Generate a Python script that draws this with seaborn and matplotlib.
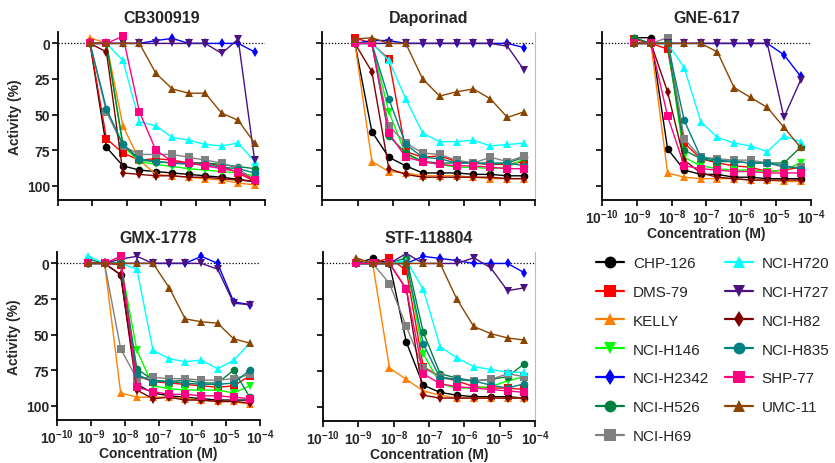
import numpy as np
import pandas as pd
import seaborn as sns
import matplotlib.pyplot as plt
from matplotlib.lines import Line2D

sns.set_style('ticks')
plt.rcParams['font.family'] = ['Liberation Sans', 'DejaVu Sans']
plt.rcParams['mathtext.fontset'] = 'custom'
plt.rcParams['mathtext.rm'] = 'Liberation Sans'
plt.rcParams['mathtext.bf'] = 'Liberation Sans:bold'

# concentrations (M), 3-fold dilution
conc = [8.47e-10, 2.54e-9, 7.62e-9, 2.29e-8, 6.86e-8, 2.06e-7, 6.17e-7, 1.85e-6, 5.56e-6, 1.67e-5, 5.0e-5]

cells = ['CHP-126', 'DMS-79', 'KELLY', 'NCI-H146', 'NCI-H2342', 'NCI-H526', 'NCI-H69',
         'NCI-H720', 'NCI-H727', 'NCI-H82', 'NCI-H835', 'SHP-77', 'UMC-11']
cell_colors = ['#000000', '#ff0000', '#ff8000', '#00ff00', '#0000ff', '#00803f', '#808080',
               '#00ffff', '#4b1082', '#800000', '#008080', '#ff0080', '#8b4500']
cell_markers = ['o', 's', '^', 'v', 'd', 'o', 's', '^', 'v', 'd', 'o', 's', '^']

# activity (%) per cell line
cb300919 = {
    'CHP-126':   [0, 73, 86, 89, 90, 91, 92, 93, 94, 95.5, 97],
    'DMS-79':    [0, 67, 77, 82, 81, 82, 84, 84, 86, 91, 97],
    'KELLY':     [-4, 0, 58, 82, 92, 93, 94, 95, 96, 98, 99.5],
    'NCI-H146':  [0, 0, 72, 83, 85, 86.5, 88, 89, 90, 91, 93],
    'NCI-H2342': [0, 0, 0, 0, -2, -3.5, 0, 0, 0, 0, 6],
    'NCI-H526':  [0, 0, 71, 82, 83, 84, 84, 84, 85, 86.5, 88],
    'NCI-H69':   [0, 48, 72, 78, 78, 78, 80, 82, 84, 88, 96],
    'NCI-H720':  [0, 0, 12, 55, 58, 66, 68, 71, 72, 70, 83],
    'NCI-H727':  [0, 0, 0, 0, 0, 0, 0, 0, 7, -3, 82],
    'NCI-H82':   [0, 6, 91, 92, 93, 93, 94, 94, 95, 96, 97],
    'NCI-H835':  [0, 46, 71, 81, 83, 84, 85, 85, 87, 88, 91],
    'SHP-77':    [0, 0, -5, 48, 75, 83, 84, 86, 88, 90, 96],
    'UMC-11':    [0, 0, 0, 0, 21, 32, 35, 35, 49, 54, 70],
}
daporinad = {
    'CHP-126':   [0, 62, 80, 86, 91, 91, 91, 92, 92, 93, 93],
    'DMS-79':    [-4, 0, 11, 76, 80, 79, 83, 84, 85, 85, 83],
    'KELLY':     [0, 83, 90, 91, 93, 93, 93, 94, 95, 95, 95],
    'NCI-H146':  [0, 0, 48, 78, 83, 85, 87, 87, 88, 87, 81],
    'NCI-H2342': [0, -2, -2, 0, 0, 0, 0, 0, 0, 0, 3],
    'NCI-H526':  [0, 0, 65, 77, 83, 84, 84, 84, 85, 84, 80],
    'NCI-H69':   [0, 0, 58, 70, 77, 78, 82, 84, 80, 83, 79],
    'NCI-H720':  [0, 0, 12, 39, 63, 69, 69, 68, 72, 71, 70],
    'NCI-H727':  [0, 0, 0, 0, 0, 0, 0, 0, 0, 2, 19],
    'NCI-H82':   [0, 20, 88, 92, 94, 94, 94, 94, 94, 95, 95],
    'NCI-H835':  [0, 0, 39, 71, 80, 81, 84, 84, 84, 84, 86],
    'SHP-77':    [0, 0, 63, 80, 83, 85, 86, 86, 87, 88, 88],
    'UMC-11':    [-3, -4, 0, 0, 25, 37, 34, 32, 39, 52, 48],
}
gne617 = {
    'CHP-126':   [-4, -4, 74, 89, 92, 92, 94, 94, 95, 95, 95],
    'DMS-79':    [-3, 0, 4, 70, 81, 84, 86, 87, 90, 89, 87],
    'KELLY':     [0, 0, 91, 94, 95, 95, 95, 96, 96, 97, 97],
    'NCI-H146':  [0, 0, 0, 80, 86, 88, 89, 89, 90, 89, 84],
    'NCI-H2342': [0, 0, 0, 0, 0, 0, 0, 0, 0, 8, 23],
    'NCI-H526':  [-4, 0, 0, 75, 81, 83, 83, 84, 84, 84, 73],
    'NCI-H69':   [0, 0, -4, 67, 80, 81, 82, 82, 84, 87, 87],
    'NCI-H720':  [0, 0, 0, 17, 55, 66, 70, 72, 76, 65, 69],
    'NCI-H727':  [0, 0, 0, 0, 0, 0, 0, 0, 0, 52, 26],
    'NCI-H82':   [0, 0, 34, 82, 91, 94, 95, 96, 96, 96, 96],
    'NCI-H835':  [0, 0, 0, 54, 80, 82, 83, 84, 84, 86, 88],
    'SHP-77':    [0, 0, 51, 86, 88, 89, 90, 90, 91, 91, 91],
    'UMC-11':    [0, 0, 0, 0, 0, 6, 31, 38, 45, 59, 73],
}
gmx1778 = {
    'CHP-126':   [0, 0, 8, 85, 91, 93, 94, 95, 96, 96, 96],
    'DMS-79':    [0, 0, 1, 79, 83, 84, 85, 86, 87, 86, 79],
    'KELLY':     [0, 0, 91, 94, 94, 94, 95, 96, 97, 97, 99],
    'NCI-H146':  [0, 0, 0, 61, 86, 88, 89, 89, 89, 91, 86],
    'NCI-H2342': [0, 0, 0, 0, 0, 0, 0, -5, 0, 27, 29],
    'NCI-H526':  [-3, 0, 0, 74, 82, 83, 82, 84, 84, 75, 94],
    'NCI-H69':   [0, 0, 60, 81, 80, 81, 81, 82, 82, 81, 78],
    'NCI-H720':  [-5, 0, 0, 4, 61, 67, 69, 68, 74, 68, 56],
    'NCI-H727':  [0, 0, -3, -5, 0, 0, 0, 0, 4, 28, 29],
    'NCI-H82':   [0, 0, 8, 89, 95, 94, 96, 96, 97, 97, 98],
    'NCI-H835':  [0, 0, 0, 78, 83, 83, 84, 85, 85, 84, 75],
    'SHP-77':    [0, 0, -5, 87, 90, 92, 92, 93, 93, 94, 95],
    'UMC-11':    [0, 0, 0, 0, 0, 17, 39, 41, 42, 53, 56],
}
stf118804 = {
    'CHP-126':   [0, -3.5, 0, 55, 85, 90, 92, 93, 93, 93, 94],
    'DMS-79':    [0, 0, -4, 5, 72, 79, 82, 86, 87, 87, 88],
    'KELLY':     [-3, 0, 73, 81, 89, 92, 94, 94, 94, 94, 94],
    'NCI-H146':  [0, 0, 0, 0, 63, 84, 87, 87, 86, 82, 79],
    'NCI-H2342': [0, 0, 0, 0, -5, -3.5, -2, 0, 0, 0, 6.5],
    'NCI-H526':  [0, 0, 0, -4, 48, 77, 80, 82, 81, 79, 70],
    'NCI-H69':   [0, 0, 14, 44, 73, 79, 81, 82, 81, 77, 79],
    'NCI-H720':  [0, 0, 0, -2, 18, 58, 66, 72, 74, 76, 76],
    'NCI-H727':  [0, 0, 0, -7, 0, 0, 0, -4, 3, 19, 17],
    'NCI-H82':   [0, 0, 0, 18, 92, 94, 94, 94, 94, 94, 94],
    'NCI-H835':  [0, 0, 0, 0, 56, 80, 81, 82, 85, 87, 84],
    'SHP-77':    [0, 0, 0, 18, 77, 84, 86, 87, 88, 89, 90],
    'UMC-11':    [-4, 0, 0, 0, 0, 0, 25, 44, 49, 52, 53.5],
}

xticks = [1e-10, 1e-9, 1e-8, 1e-7, 1e-6, 1e-5, 1e-4]
xticklabels = [r'$\mathbf{10^{-10}}$', r'$\mathbf{10^{-9}}$', r'$\mathbf{10^{-8}}$',
               r'$\mathbf{10^{-7}}$', r'$\mathbf{10^{-6}}$', r'$\mathbf{10^{-5}}$',
               r'$\mathbf{10^{-4}}$']
yticks = [0, 25, 50, 75, 100]

palette = dict(zip(cells, cell_colors))
markers = dict(zip(cells, cell_markers))

W, H = 835, 464
def rect(l, r, t, b):
    return [l / W, 1 - b / H, (r - l) / W, (b - t) / H]

# (title, data, pixel box, show x labels, show y labels, right spine)
panels = [
    ('CB300919', cb300919, rect(58, 265, 33, 201), False, True, False),
    ('Daporinad', daporinad, rect(322, 535, 33, 201), False, False, True),
    ('GNE-617', gne617, rect(602, 811, 33, 201), True, False, False),
    ('GMX-1778', gmx1778, rect(57, 260, 253, 421), True, True, False),
    ('STF-118804', stf118804, rect(323, 535, 253, 422), True, False, True),
]

fig = plt.figure(figsize=(8.35, 4.64), dpi=100)

for title, data, box, showx, showy, rspine in panels:
    ax = fig.add_axes(box)
    df = pd.DataFrame([(c, x, v) for c in cells for x, v in zip(conc, data[c])],
                      columns=['cell', 'conc', 'activity'])
    ax.axhline(0, color='black', ls=(0, (1, 1.5)), lw=0.9, zorder=1)
    sns.lineplot(data=df, x='conc', y='activity', hue='cell', style='cell',
                 palette=palette, markers=markers, dashes=False, estimator=None,
                 hue_order=cells, style_order=cells, lw=1.0, markersize=5.5,
                 markeredgewidth=0, legend=False, ax=ax, zorder=3)
    ax.set_xscale('log')
    ax.set_xlim(1e-10, 1e-4)
    ax.set_ylim(110, -8)
    ax.set_xticks(xticks)
    ax.minorticks_off()
    ax.set_yticks(yticks)
    ax.set_title(title, fontsize=11.5, fontweight='bold', pad=7)
    if showx:
        ax.set_xticklabels(xticklabels, fontsize=10)
        ax.set_xlabel('Concentration (M)', fontsize=10, fontweight='bold', labelpad=0)
    else:
        ax.set_xticklabels([])
        ax.set_xlabel('')
    if showy:
        ax.set_yticklabels([str(t) for t in yticks], fontsize=10, fontweight='bold')
        ax.set_ylabel('Activity (%)', fontsize=10, fontweight='bold', labelpad=4)
    else:
        ax.set_yticklabels([])
        ax.set_ylabel('')
    ax.spines['top'].set_visible(False)
    if rspine:
        ax.spines['right'].set_color('#bbbbbb')
        ax.spines['right'].set_linewidth(0.8)
    else:
        ax.spines['right'].set_visible(False)
    for s in ['left', 'bottom']:
        ax.spines[s].set_linewidth(1.3)
        ax.spines[s].set_color('black')
    ax.tick_params(width=1.2, length=4, color='black', pad=1.5)

handles = [Line2D([], [], color=c, marker=m, markersize=8.5, lw=1.6, markeredgewidth=0)
           for c, m in zip(cell_colors, cell_markers)]
fig.legend(handles, cells, ncol=2, loc='upper left',
           bbox_to_anchor=(590 / W, 1 - 251 / H), frameon=False, fontsize=11,
           handlelength=1.8, handletextpad=0.6, labelspacing=0.97, columnspacing=1.05,
           borderaxespad=0)

fig.savefig('out.png', dpi=100)
